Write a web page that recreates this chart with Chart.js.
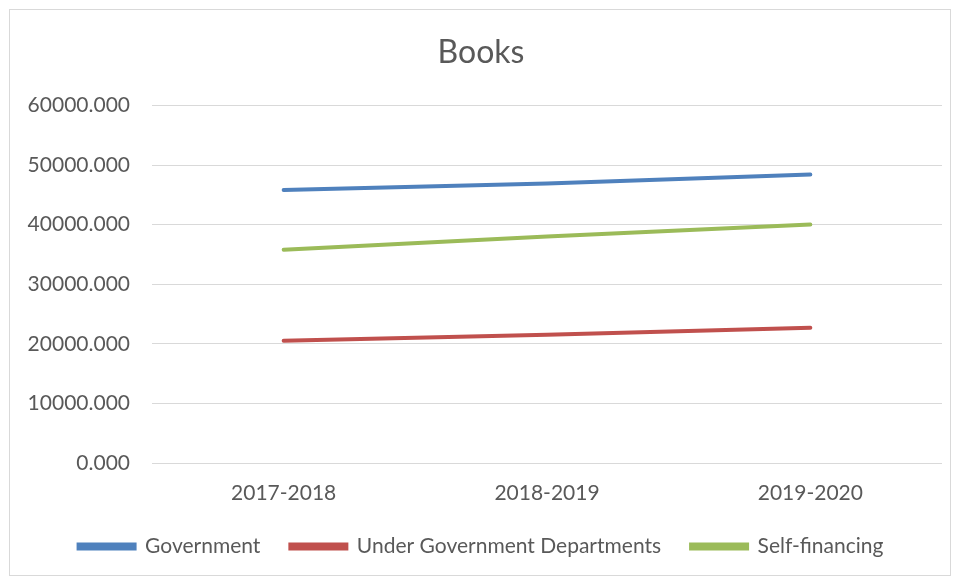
<!DOCTYPE html>
<html>
<head>
<meta charset="utf-8">
<script src="https://cdn.jsdelivr.net/npm/chart.js@4.4.1/dist/chart.umd.min.js"></script>
<style>
  html, body { margin: 0; padding: 0; background: #fff; }
  #wrap { width: 960px; height: 581px; position: relative; }
</style>
</head>
<body>
<div id="wrap"><canvas id="myChart" width="960" height="581"></canvas></div>
<script>
// años académicos y valores de cada serie
const years = ["2017-2018", "2018-2019", "2019-2020"];
const government = [45800, 46900, 48400];
const underGovDepts = [20500, 21500, 22700];
const selfFinancing = [35800, 38000, 40000];
const yTicks = [0, 10000, 20000, 30000, 40000, 50000, 60000];

const ctx = document.getElementById("myChart");
const FONT = "Lato, 'Liberation Sans', sans-serif";

// fondo blanco y marco gris alrededor del gráfico
const frame = {
  id: "frame",
  beforeDraw(chart) {
    const c = chart.ctx;
    c.save();
    c.fillStyle = "#fff";
    c.fillRect(0, 0, chart.width, chart.height);
    c.strokeStyle = "#d9d9d9";
    c.lineWidth = 1;
    c.strokeRect(9.5, 9.5, 941, 566);
    c.restore();
  }
};

function serie(label, data, color) {
  return {
    label: label,
    data: data,
    borderColor: color,
    backgroundColor: color,
    borderWidth: 4,
    pointRadius: 0,
    tension: 0,
    borderCapStyle: "round"
  };
}

let chart = new Chart(ctx, {
  type: "line",
  data: {
    labels: years,
    datasets: [
      serie("Government", government, "#4f81bd"),
      serie("Under Government Departments", underGovDepts, "#c0504d"),
      serie("Self-financing", selfFinancing, "#9bbb59")
    ]
  },
  options: {
    responsive: false,
    animation: false,
    layout: { padding: { left: 20, right: 18, top: 33, bottom: 14 } },
    plugins: {
      title: {
        display: true,
        text: "Books",
        color: "#595959",
        font: { family: FONT, size: 32, weight: "normal" },
        padding: { top: 0, bottom: 34 }
      },
      legend: {
        position: "bottom",
        labels: {
          color: "#595959",
          font: { family: FONT, size: 21 },
          boxWidth: 56,
          boxHeight: 4,
          padding: 30
        }
      },
      tooltip: { enabled: false }
    },
    scales: {
      x: {
        offset: true,
        grid: { display: false },
        border: { display: false },
        ticks: { color: "#595959", font: { family: FONT, size: 21 }, padding: 10 },
        afterFit: (s) => { s.height = 43; }
      },
      y: {
        min: 0,
        max: 60000,
        afterBuildTicks: (s) => { s.ticks = yTicks.map(v => ({ value: v })); },
        grid: { color: "#d9d9d9", drawTicks: false },
        border: { display: false },
        ticks: {
          color: "#595959",
          font: { family: FONT, size: 21 },
          padding: 22,
          callback: (v) => Number(v).toFixed(3)
        },
        afterFit: (s) => { s.width = 132; }
      }
    }
  },
  plugins: [frame]
});
</script>
</body>
</html>
